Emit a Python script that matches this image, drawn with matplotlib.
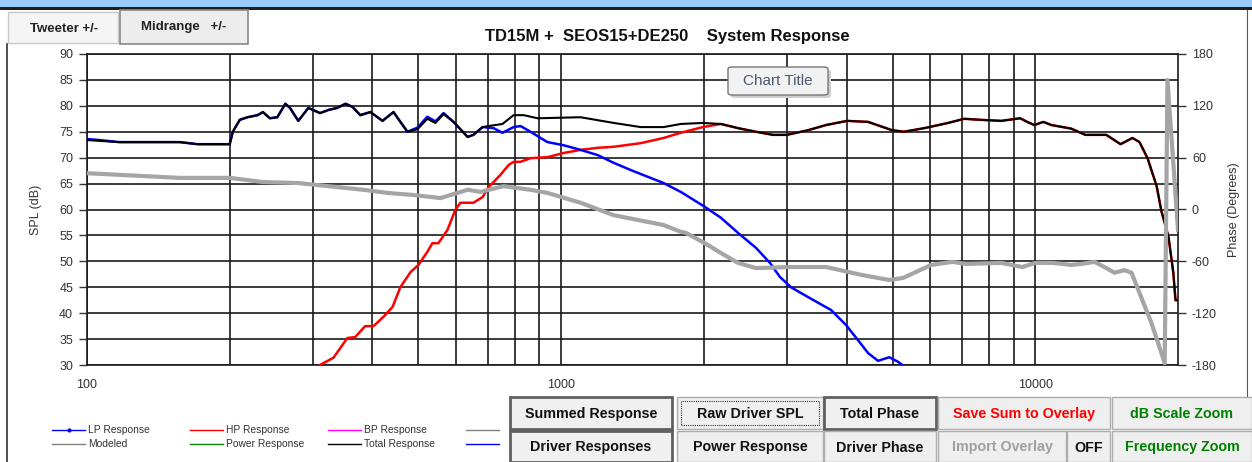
import numpy as np
import matplotlib
matplotlib.use("Agg")
import matplotlib.pyplot as plt
from matplotlib.patches import Rectangle, FancyBboxPatch
from matplotlib.lines import Line2D

plt.rcParams['font.family'] = ['Liberation Sans', 'DejaVu Sans']
plt.rcParams['axes.unicode_minus'] = False

# ---------------- data ----------------
total_freq = [100, 117, 157, 171, 200, 203, 210, 218, 229, 235, 243, 252, 262, 268, 279,
              293, 310, 323, 337, 351, 363, 377, 396, 420, 443, 474, 498, 522, 543, 565,
              593, 635, 653, 683, 703, 752, 794, 834, 892, 1099, 1291, 1472, 1645, 1787,
              1990, 2173, 2360, 2576, 2798, 2993, 3318, 3622, 4010, 4440, 4989, 5287, 5834,
              6551, 7080, 7656, 8477, 9294, 9617, 9954, 10400, 10810, 11910, 12750, 13190,
              14120, 15130, 16030, 16590, 17250, 18030, 18460, 18750, 19100, 19550, 19760, 20000]
total_db = [73.4, 73.0, 73.0, 72.6, 72.6, 75.0, 77.3, 77.8, 78.2, 78.8, 77.6, 77.8, 80.4, 79.6, 77.1,
            79.6, 78.6, 79.2, 79.6, 80.4, 79.8, 78.2, 78.8, 77.1, 78.8, 75.0, 75.5, 77.5, 76.7, 78.4,
            76.9, 74.0, 74.4, 75.9, 76.1, 76.5, 78.2, 78.2, 77.6, 77.8, 76.7, 75.9, 75.9, 76.5,
            76.7, 76.5, 75.7, 75.0, 74.4, 74.4, 75.3, 76.3, 77.1, 76.9, 75.3, 75.0, 75.7,
            76.7, 77.5, 77.3, 77.1, 77.6, 76.9, 76.3, 76.9, 76.3, 75.6, 74.4, 74.4,
            74.4, 72.6, 73.8, 73.0, 69.9, 64.5, 59.6, 57.4, 54.7, 47.8, 42.5, 42.5]

hp_freq = [310, 331, 354, 368, 386, 402, 422, 441, 458, 481, 500, 522, 535, 551, 576, 598,
           613, 653, 683, 703, 745, 775, 794, 821, 862, 936, 1012, 1099, 1194, 1291, 1472,
           1645, 1787, 1990, 2173, 2360, 2576, 2798, 2993, 3318, 3622, 4010, 4440, 4989,
           5287, 5834, 6551, 7080, 7656, 8477, 9294, 9617, 9954, 10400, 10810, 11910, 12750,
           13190, 14120, 15130, 16030, 16590, 17250, 18030, 18460, 18750, 19100, 19550, 19760, 20000]
hp_db = [30.0, 31.4, 35.2, 35.4, 37.5, 37.5, 39.3, 41.2, 45.0, 47.9, 49.3, 51.8, 53.5, 53.5, 56.1, 59.9,
         61.3, 61.3, 62.4, 64.3, 66.7, 68.6, 69.2, 69.2, 69.9, 70.1, 70.9, 71.5, 71.9, 72.1, 72.8,
         73.8, 74.8, 75.9, 76.5, 75.7, 75.0, 74.4, 74.4, 75.3, 76.3, 77.1, 76.9, 75.3,
         75.0, 75.7, 76.7, 77.5, 77.3, 77.1, 77.6, 76.9, 76.3, 76.9, 76.3, 75.6, 74.4,
         74.4, 74.4, 72.6, 73.8, 73.0, 69.9, 64.5, 59.6, 57.4, 54.7, 47.8, 42.5, 42.5]

lp_freq = [100, 106, 117, 157, 171, 200, 203, 210, 218, 229, 235, 243, 252, 262, 268, 279,
           293, 310, 323, 337, 351, 363, 377, 396, 420, 443, 474, 498, 522, 543, 565,
           593, 635, 653, 683, 720, 752, 794, 821, 862, 905, 936, 1012, 1099, 1194, 1291,
           1403, 1524, 1645, 1787, 1832, 2010, 2173, 2360, 2576, 2757, 2893, 3054, 3318,
           3710, 3990, 4227, 4440, 4660, 4920, 5140, 5262]
lp_db = [73.6, 73.4, 73.0, 73.0, 72.6, 72.6, 75.0, 77.3, 77.8, 78.2, 78.8, 77.6, 77.8, 80.4, 79.6, 77.1,
         79.6, 78.6, 79.2, 79.6, 80.4, 79.8, 78.2, 78.8, 77.1, 78.8, 75.0, 75.8, 77.9, 77.0, 78.6,
         76.9, 74.0, 74.4, 75.9, 75.7, 74.8, 75.9, 76.1, 75.0, 73.8, 73.0, 72.4, 71.5, 70.5, 69.0,
         67.6, 66.3, 65.1, 63.4, 62.8, 60.5, 58.4, 55.5, 52.6, 49.7, 47.0, 45.0, 43.1,
         40.6, 37.7, 34.8, 32.3, 30.8, 31.5, 30.6, 29.9]

phase_freq = [100, 157, 200, 235, 279, 323, 383, 430, 488, 557, 604, 635, 676, 756, 862,
              936, 1099, 1291, 1524, 1645, 1787, 1832, 2010, 2173, 2360, 2576, 3054, 3622,
              4290, 4920, 5262, 6030, 6680, 7150, 8477, 9390, 10000, 10910, 11910, 12500,
              13330, 14120, 14690, 15420, 15960, 16590, 17580, 18270, 18750, 19000, 20000]
phase_deg = [42, 36.6, 36.6, 31.8, 30.6, 27, 22.8, 19.2, 16.8, 13.2, 19.2, 22.8, 20.4, 27, 22.8,
             19.2, 7.8, -6.6, -14.4, -18, -25.8, -27, -39, -50.4, -61.8, -67.8, -66.6, -66.6,
             -75.6, -81.6, -79.2, -64.2, -60.6, -63, -61.8, -66.6, -61.8, -61.8, -64.2, -63,
             -60.6, -67.8, -73.2, -70.2, -73.2, -96.6, -131.4, -159, -178, 150, -23.4]

spl_ticks = [30, 35, 40, 45, 50, 55, 60, 65, 70, 75, 80, 85, 90]
phase_ticks = [-180, -120, -60, 0, 60, 120, 180]
freq_major = [100, 1000, 10000]
freq_minor = [200, 300, 400, 500, 600, 700, 800, 900,
              2000, 3000, 4000, 5000, 6000, 7000, 8000, 9000]

title_text = "TD15M +  SEOS15+DE250    System Response"

# ---------------- figure ----------------
W, H = 1252, 462
fig = plt.figure(figsize=(W / 100, H / 100), dpi=100)
fig.patch.set_facecolor('white')


def fx(x):
    return x / W


def fy(y):
    return 1 - y / H


def frect(x0, y0, x1, y1, **kw):
    r = Rectangle((fx(x0), fy(y1)), fx(x1) - fx(x0), fy(y0) - fy(y1),
                  transform=fig.transFigure, **kw)
    fig.patches.append(r)
    return r


def fline(xs, ys, **kw):
    fig.lines.append(Line2D([fx(v) for v in xs], [fy(v) for v in ys],
                            transform=fig.transFigure, **kw))


# window chrome
frect(0, 0, W, 7, facecolor='#99CCFF', edgecolor='none')
frect(0, 7, W, 10, facecolor='#1E1E1E', edgecolor='none')
fline([7, 7], [44, 462], color='#333333', lw=1.2)
fline([1247, 1247], [10, 396], color='#555555', lw=0.8)

# top buttons
frect(8, 12, 118, 43, facecolor='#F5F5F5', edgecolor='#C8C8C8', lw=1)
fig.text(fx(64), fy(29), "Tweeter +/-", ha='center', va='center', fontsize=9.5,
         fontweight='bold', color='#222222')
frect(120, 10, 248, 44, facecolor='#EDEDED', edgecolor='#8A8A8A', lw=1.2)
fig.text(fx(184), fy(27), "Midrange   +/-", ha='center', va='center', fontsize=9.5,
         fontweight='bold', color='#222222')

# ---------------- axes ----------------
ax = fig.add_axes([fx(87), fy(365), fx(1178) - fx(87), fy(54) - fy(365)])
ax.set_xscale('log')
ax.set_xlim(100, 20000)
ax.set_ylim(30, 90)
ax.set_xticks(freq_major)
ax.set_xticklabels([str(v) for v in freq_major])
ax.set_xticks(freq_minor, minor=True)
ax.xaxis.set_minor_formatter(matplotlib.ticker.NullFormatter())
ax.set_yticks(spl_ticks)
ax.grid(True, which='both', axis='x', color='#1A1A1A', lw=1.2)
ax.grid(True, which='major', axis='y', color='#1A1A1A', lw=1.2)
ax.set_axisbelow(True)
ax.tick_params(axis='x', which='both', length=0, pad=10, labelsize=9, labelcolor='#333333')
ax.tick_params(axis='y', direction='out', length=6, width=1, color='#333333',
               pad=4, labelsize=9, labelcolor='#333333')
for s in ax.spines.values():
    s.set_color('#1A1A1A')
    s.set_linewidth(1.2)
ax.set_ylabel("SPL (dB)", fontsize=9, color='#333333', labelpad=12)

ax.plot(hp_freq, hp_db, color='#FF0000', lw=1.8, zorder=3, solid_joinstyle='round')
ax.plot(lp_freq, lp_db, color='#0000FF', lw=1.8, zorder=4, solid_joinstyle='round')
ax.plot(total_freq, total_db, color='#000000', lw=1.5, zorder=5, solid_joinstyle='round')

ax2 = ax.twinx()
ax2.set_ylim(-180, 180)
ax2.set_yticks(phase_ticks)
ax2.tick_params(axis='y', direction='out', length=6, width=1, color='#333333',
                pad=4, labelsize=9, labelcolor='#333333')
for s in ax2.spines.values():
    s.set_visible(False)
ax2.plot(phase_freq, phase_deg, color='#A5A5A5', lw=3.0, zorder=6, solid_joinstyle='round')
ax2.set_ylabel("Phase (Degrees)", fontsize=9, color='#333333', labelpad=8)

# title and tooltip
fig.text(fx(667), fy(36), title_text, ha='center', va='center', fontsize=12,
         fontweight='bold', color='#111111')
shadow = FancyBboxPatch((fx(731), fy(98)), fx(100), fy(0) - fy(28),
                        boxstyle="round,pad=0,rounding_size=0.004",
                        transform=fig.transFigure, facecolor='#CFCFCF', edgecolor='none')
fig.patches.append(shadow)
tip = FancyBboxPatch((fx(728), fy(95)), fx(100), fy(0) - fy(28),
                     boxstyle="round,pad=0,rounding_size=0.004",
                     transform=fig.transFigure, facecolor='#F2F2F2', edgecolor='#767676', lw=1)
fig.patches.append(tip)
fig.text(fx(778), fy(81), "Chart Title", ha='center', va='center', fontsize=11,
         color='#4A5A6E')

# ---------------- legend ----------------
leg_rows = [
    [("LP Response", '#0000FF', 52), ("HP Response", '#FF0000', 190),
     ("BP Response", '#FF00FF', 328), ("", '#808080', 466)],
    [("Modeled", '#808080', 52), ("Power Response", '#008000', 190),
     ("Total Response", '#000000', 328), ("", '#0000FF', 466)],
]
for row, yy in zip(leg_rows, [430, 444]):
    for label, col, x0 in row:
        fline([x0, x0 + 33], [yy, yy], color=col, lw=1.0)
        if label:
            fig.text(fx(x0 + 36), fy(yy), label, ha='left', va='center', fontsize=7.4,
                     color='#333333')
fig.lines.append(Line2D([fx(69)], [fy(430)], transform=fig.transFigure, marker='o',
                        markersize=2, color='#0000FF'))

# ---------------- bottom buttons ----------------
def button(x0, y0, x1, y1, text, tcolor='#111111', edge='#ADADAD', lw=1.0, face='#EFEFEF',
           focus=False):
    frect(x0, y0, x1, y1, facecolor=face, edgecolor=edge, lw=lw)
    if focus:
        frect(x0 + 4, y0 + 4, x1 - 4, y1 - 4, facecolor='none', edgecolor='#333333',
              lw=0.8, linestyle=(0, (1, 1)))
    fig.text(fx((x0 + x1) / 2), fy((y0 + y1) / 2 + 1), text, ha='center', va='center',
             fontsize=10.3, fontweight='bold', color=tcolor)


r1 = (397, 429)
r2 = (431, 462)
button(510, r1[0], 672, r1[1], "Summed Response", edge='#606060', lw=2.0, face='#F0F0F0')
button(677, r1[0], 823, r1[1], "Raw Driver SPL", focus=True)
button(824, r1[0], 936, r1[1], "Total Phase", edge='#606060', lw=2.0, face='#F0F0F0')
button(938, r1[0], 1110, r1[1], "Save Sum to Overlay", tcolor='#FF0000')
button(1112, r1[0], 1252, r1[1], "dB Scale Zoom", tcolor='#008000')
button(510, r2[0], 672, r2[1], "Driver Responses", edge='#606060', lw=2.0, face='#F0F0F0')
button(677, r2[0], 823, r2[1], "Power Response")
button(824, r2[0], 936, r2[1], "Driver Phase")
button(938, r2[0], 1066, r2[1], "Import Overlay", tcolor='#A0A0A0')
button(1067, r2[0], 1110, r2[1], "OFF")
button(1112, r2[0], 1252, r2[1], "Frequency Zoom", tcolor='#008000')

fig.savefig("out.png", dpi=100, facecolor='white')
